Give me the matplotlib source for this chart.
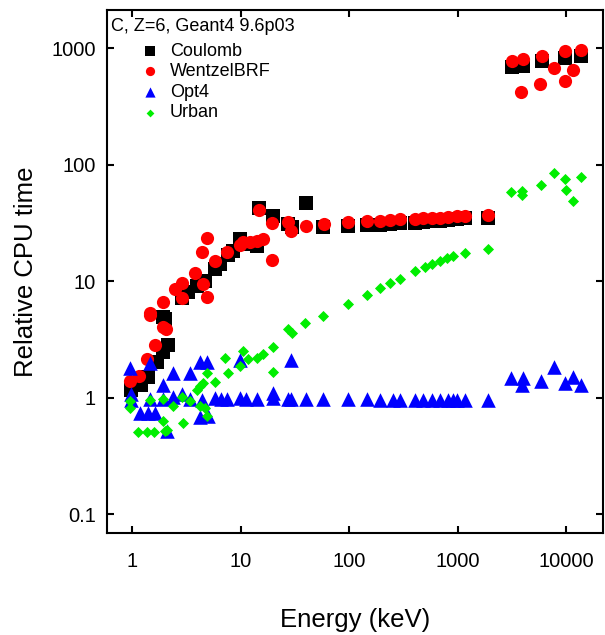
import matplotlib
matplotlib.use("Agg")
import matplotlib.pyplot as plt

plt.rcParams['font.family'] = ['Liberation Sans', 'DejaVu Sans']

# Coulomb scattering model
coulomb_e = [0.98, 1.21, 1.40, 1.70, 1.93, 2.15, 1.93, 2.0, 2.89, 3.3, 3.98, 4.71, 5.82,
             6.5, 7.67, 8.5, 9.9, 12.2, 14.0, 14.8, 19.9, 27.4, 29.5, 40.2, 57.6, 98,
             147, 193, 239, 295, 406, 481, 582, 690, 817, 989, 1170, 1910,
             3180, 4020, 6010, 9790, 13750]
coulomb_v = [1.15, 1.27, 1.49, 2.0, 2.45, 2.85, 4.9, 4.7, 7.2, 8.0, 9.1, 10.1, 12.8,
             14.0, 16.6, 18.0, 23.0, 21.0, 20.0, 42.0, 36.0, 31.0, 29.0, 47.0, 29.0, 29.5,
             30.0, 30.5, 31.0, 31.5, 31.5, 32.0, 32.5, 33.0, 33.5, 34.0, 34.5, 34.5,
             690, 700, 770, 820, 850]

# WentzelBRF
wentzel_e = [0.96, 1.16, 1.37, 1.46, 1.63, 1.46, 1.93, 2.05, 1.93, 2.49, 2.89, 2.89,
             3.81, 4.51, 4.91, 4.4, 4.9, 5.8, 7.5, 9.9, 10.6, 12.2, 14.2, 16.1, 14.8,
             19.5, 19.5, 27.4, 29.2, 40, 58.5, 98, 146, 193, 239, 295, 406, 481, 582,
             690, 817, 989, 1170, 1910,
             3180, 3850, 4020, 5750, 6010, 7750, 9800, 9800, 11600, 13750]
wentzel_v = [1.40, 1.54, 2.16, 5.1, 2.8, 5.3, 4.0, 3.9, 6.6, 8.6, 9.7, 7.1,
             11.8, 9.5, 7.3, 17.6, 23.2, 15.0, 17.6, 20.2, 21.5, 21.5, 22.2, 23.0, 41.0,
             31.2, 15.2, 32.0, 27.0, 29.5, 31.0, 32.0, 33.0, 33.0, 33.5, 34.0, 34.0, 34.5, 35.0,
             35.0, 35.5, 36.0, 36.0, 37.0,
             780, 420, 810, 490, 860, 680, 935, 525, 650, 970]

# Opt4
opt4_e = [0.96, 0.98, 0.98, 1.18, 1.40, 1.63, 1.46, 1.46, 1.93, 1.93, 2.1, 2.39, 2.39,
          2.89, 3.42, 3.42, 4.23, 4.91, 4.4, 5.0, 4.23, 5.82, 6.6, 7.5, 9.9, 9.9, 11.2,
          14.2, 19.9, 19.9, 27.4, 29.2, 29.2, 40, 57.6, 98, 147, 193, 255, 295, 406,
          481, 582, 690, 817, 905, 989, 1170, 1910,
          3100, 3950, 4000, 5880, 7700, 9800, 11600, 13750]
opt4_v = [1.81, 1.08, 0.95, 0.74, 0.74, 0.74, 1.96, 0.98, 1.27, 0.98, 0.52, 1.64, 1.02,
          1.08, 1.61, 0.98, 2.0, 2.0, 0.95, 0.70, 0.68, 1.0, 0.98, 0.98, 2.1, 1.0, 0.98,
          0.98, 1.0, 1.1, 0.97, 2.1, 0.97, 0.98, 0.98, 0.97, 0.97, 0.96, 0.96, 0.96, 0.95,
          0.95, 0.95, 0.95, 0.95, 0.95, 0.95, 0.95, 0.95,
          1.48, 1.27, 1.48, 1.40, 1.84, 1.32, 1.51, 1.27]

# Urban
urban_e = [0.96, 0.96, 1.14, 1.37, 1.6, 1.93, 2.0, 2.1, 1.46, 1.93, 2.39, 2.89, 2.95,
           3.42, 3.98, 4.23, 4.51, 4.91, 4.23, 4.71, 4.91, 5.82, 7.2, 7.67, 9.9, 10.5,
           11.7, 14.2, 16.0, 19.9, 19.9, 27.4, 29.8, 39.3, 57.6, 98, 147, 193, 239, 295,
           406, 500, 582, 690, 800, 905, 1170, 1910,
           3100, 3950, 3950, 5880, 7700, 9800, 10000, 11600, 13750]
urban_v = [0.94, 0.82, 0.51, 0.51, 0.51, 0.63, 0.52, 0.53, 0.96, 0.98, 0.84, 1.02, 0.61,
           0.94, 1.15, 1.25, 1.32, 1.64, 0.85, 0.82, 0.70, 1.35, 2.2, 1.64, 1.88, 2.53,
           2.16, 2.2, 2.35, 2.7, 1.67, 3.9, 3.6, 4.4, 5.06, 6.4, 7.6, 8.8, 9.7, 10.5,
           12.1, 13.3, 14.1, 15.0, 15.9, 16.5, 17.5, 19.0,
           57.6, 59.8, 54.3, 67.2, 83.9, 75.8, 60.9, 49.0, 77.6]

fig = plt.figure(figsize=(6.05, 6.35), dpi=100)
ax = fig.add_axes([0.177, 0.1606, 0.820, 0.8236])

ax.scatter(coulomb_e, coulomb_v, marker='s', s=90, color='black', linewidths=0, label='Coulomb')
ax.scatter(wentzel_e, wentzel_v, marker='o', s=90, color='#ff0000', linewidths=0, label='WentzelBRF')
ax.scatter(opt4_e, opt4_v, marker='^', s=110, color='#0000ff', linewidths=0, label='Opt4')
ax.scatter(urban_e, urban_v, marker='D', s=32, color='#00ee00', linewidths=0, label='Urban')

ax.set_xscale('log')
ax.set_yscale('log')
ax.set_xlim(0.588, 21900)
ax.set_ylim(0.0687, 2120)

ax.set_xticks([1, 10, 100, 1000, 10000])
ax.set_xticklabels(['1', '10', '100', '1000', '10000'])
ax.set_yticks([0.1, 1, 10, 100, 1000])
ax.set_yticklabels(['0.1', '1', '10', '100', '1000'])
ax.minorticks_off()
ax.tick_params(which='major', direction='in', length=5, width=1.5, labelsize=14.5,
               top=True, right=True)
ax.tick_params(axis='x', pad=14)
ax.tick_params(axis='y', pad=8)
for sp in ax.spines.values():
    sp.set_linewidth(1.5)

ax.set_xlabel('Energy (keV)', fontsize=18.5, labelpad=26)
ax.set_ylabel('Relative CPU time', fontsize=18.5, labelpad=10)

ax.text(0.008, 0.985, 'C, Z=6, Geant4 9.6p03', transform=ax.transAxes, fontsize=13,
        ha='left', va='top')
ax.legend(loc='upper left', bbox_to_anchor=(0.025, 0.962), frameon=False, fontsize=13,
          handletextpad=0.1, labelspacing=0.2, borderpad=0.2, markerscale=0.7)

fig.savefig('out.png', dpi=100)
